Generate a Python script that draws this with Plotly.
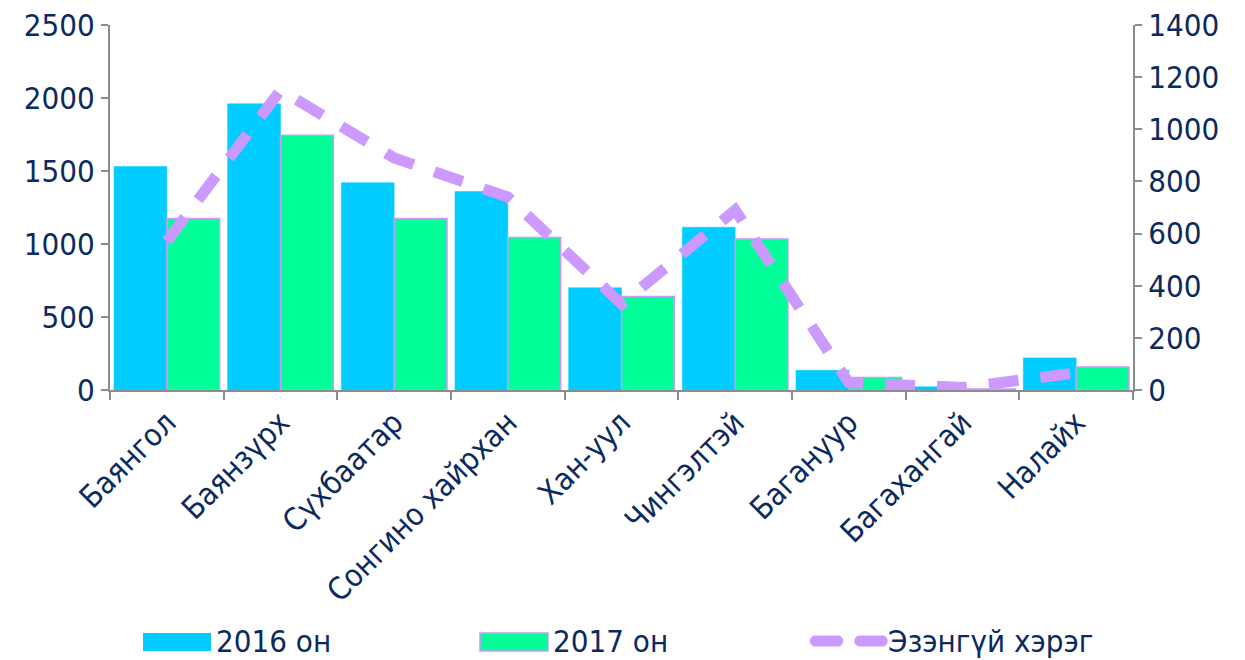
import plotly.graph_objects as go

categories = ["Баянгол", "Баянзүрх", "Сүхбаатар", "Сонгино хайрхан", "Хан-уул",
              "Чингэлтэй", "Багануур", "Багахангай", "Налайх"]
values_2016 = [1530, 1960, 1420, 1360, 700, 1115, 135, 22, 220]
values_2017 = [1175, 1745, 1175, 1045, 640, 1035, 85, 6, 158]
values_line = [570, 1150, 890, 740, 330, 690, 28, 10, 65]
legend_names = ["2016 он", "2017 он", "Эзэнгүй хэрэг"]

navy = "#0B2A5E"
font_fam = "DejaVu Sans Condensed, DejaVu Sans, sans-serif"
axis_gray = "#8C8C8C"
c2016 = "#00CCFF"
c2017 = "#00FF99"
cline = "#CC99FF"
FS = 31

# page offset (browser body margin)
OFF = 8
W, H = 1245, 660
# plot area in page pixels
L, R, T, B = 110, 1133, 25, 390


def px(x):
    return (x - L) / (R - L)


def py(y):
    return (B - y) / (B - T)


fig = go.Figure()
fig.add_trace(go.Bar(x=categories, y=values_2016, name=legend_names[0],
                     marker=dict(color=c2016, line=dict(color=c2016, width=0.5))))
fig.add_trace(go.Bar(x=categories, y=values_2017, name=legend_names[1],
                     marker=dict(color=c2017, line=dict(color=cline, width=1.5))))
fig.add_trace(go.Scatter(x=categories, y=values_line, name=legend_names[2], yaxis="y2",
                         mode="lines",
                         line=dict(color=cline, width=11, dash="30px,22px")))

shapes = []
annotations = []
# legend: 2016
shapes.append(dict(type="rect", xref="paper", yref="paper",
                   x0=px(143), x1=px(211), y0=py(651), y1=py(633),
                   fillcolor=c2016, line=dict(width=0)))
annotations.append(dict(xref="paper", yref="paper", x=px(214), y=py(641),
                        xanchor="left", yanchor="middle", showarrow=False,
                        text=legend_names[0], font=dict(family=font_fam, size=FS, color=navy)))
# legend: 2017
shapes.append(dict(type="rect", xref="paper", yref="paper",
                   x0=px(480), x1=px(548), y0=py(651), y1=py(633),
                   fillcolor=c2017, line=dict(width=1.5, color=cline)))
annotations.append(dict(xref="paper", yref="paper", x=px(551), y=py(641),
                        xanchor="left", yanchor="middle", showarrow=False,
                        text=legend_names[1], font=dict(family=font_fam, size=FS, color=navy)))
# legend: line (two rounded dashes)
capsule = "M -11,-5.5 L 11,-5.5 C 18.5,-5.5 18.5,5.5 11,5.5 L -11,5.5 C -18.5,5.5 -18.5,-5.5 -11,-5.5 Z"
for cx in (826.5, 871):
    shapes.append(dict(type="path", xref="paper", yref="paper",
                       xsizemode="pixel", ysizemode="pixel",
                       xanchor=px(cx), yanchor=py(641),
                       path=capsule, fillcolor=cline, line=dict(width=0)))
annotations.append(dict(xref="paper", yref="paper", x=px(886), y=py(641),
                        xanchor="left", yanchor="middle", showarrow=False,
                        text=legend_names[2], font=dict(family=font_fam, size=FS, color=navy)))

fig.update_layout(
    width=W, height=H,
    paper_bgcolor="white", plot_bgcolor="white",
    margin=dict(l=L - OFF, r=W - (R - OFF), t=T - OFF, b=H - (B - OFF), autoexpand=False),
    barmode="group", bargap=0.07, bargroupgap=0.0,
    font=dict(family=font_fam, size=FS, color=navy),
    showlegend=False,
    shapes=shapes,
    annotations=annotations,
    xaxis=dict(showline=True, linecolor=axis_gray, linewidth=2, automargin=False,
               ticks="outside", tickson="boundaries", ticklen=8, tickcolor=axis_gray,
               tickwidth=2, tickangle=-45, ticklabeloverflow="allow",
               tickfont=dict(family=font_fam, size=FS, color=navy)),
    yaxis=dict(range=[0, 2500], dtick=500, showgrid=False, zeroline=False, automargin=False,
               showline=True, linecolor=axis_gray, linewidth=2, ticklabeloverflow="allow",
               ticks="outside", ticklen=7, tickcolor=axis_gray, tickwidth=2,
               tickfont=dict(family=font_fam, size=FS, color=navy)),
    yaxis2=dict(range=[0, 1400], dtick=200, overlaying="y", side="right",
                showgrid=False, zeroline=False, automargin=False, ticklabeloverflow="allow",
                showline=True, linecolor=axis_gray, linewidth=2,
                ticks="outside", ticklen=7, tickcolor=axis_gray, tickwidth=2,
                tickfont=dict(family=font_fam, size=FS, color=navy)),
)

fig.write_html("out.html")
